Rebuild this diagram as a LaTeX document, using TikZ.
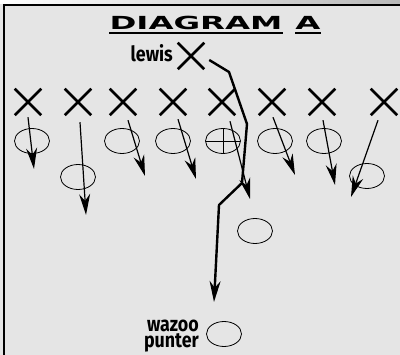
\documentclass[tikz,border=0pt]{standalone}
\usepackage{fontspec}
\setmainfont{Fira Sans}
\newfontfamily\titlefont{DejaVu Sans}
\usetikzlibrary{shapes.geometric,shapes.misc,arrows.meta}
\definecolor{field}{gray}{0.9}

\begin{document}
\begin{tikzpicture}[x=1pt,y=-1pt,>={Stealth[length=21pt,width=11pt]},
  player/.style={cross out,draw,line width=2.5pt,minimum size=24pt,inner sep=0pt},
  oval/.style={ellipse,draw,line width=0.8pt,minimum width=35pt,minimum height=25pt,inner sep=0pt},
  center/.style={oval,path picture={\draw[line width=0.8pt]
      (path picture bounding box.west) -- (path picture bounding box.east)
      (path picture bounding box.north) -- (path picture bounding box.south);}},
  run/.style={->,line width=1.2pt},
  route/.style={->,line width=2.4pt,line join=round},
  heading/.style={font=\titlefont\bfseries\fontsize{18}{18}\selectfont,xscale=1.8,inner sep=0pt},
  tag/.style={font=\bfseries\fontsize{21}{13}\selectfont,xscale=0.85,inner sep=0pt}]
  \useasboundingbox (0,0) rectangle (400,355);
  \fill[field] (0,0) rectangle (400,355);
  \shade[left color=white,right color=gray!55] (0,0) rectangle (400,4);
  \draw[line width=1.5pt] (4,355) -- (4,5) -- (400,5);
  % title
  \node[heading,anchor=base] (ttl) at (196,30) {DIAGRAM};
  \node[heading,anchor=base] (ttla) at (308,30) {A};
  \draw[line width=1.4pt] ([yshift=-3pt]ttl.base west) -- ([yshift=-3pt]ttl.base east);
  \draw[line width=1.4pt] ([yshift=-3pt]ttla.base west) -- ([yshift=-3pt]ttla.base east);
  % the line
  \node[player] (lw) at (191,56) {};
  \node[tag,anchor=base east] (lwt) at (173,62) {lewis};
  \foreach \i/\x in {1/28,2/78,3/123,4/173,5/222,6/272,7/322,8/384}
    \node[player] (x\i) at (\x,102) {};
  % ovals
  \node[oval] (o1) at (32,141) {};
  \node[oval] (o2) at (78,177) {};
  \node[oval] (o3) at (122,141) {};
  \node[oval] (o4) at (173,141) {};
  \node[center] (o5) at (223,141) {};
  \node[oval] (o6) at (275,141) {};
  \node[oval] (o7) at (324,141) {};
  \node[oval] (o8) at (367,176) {};
  \node[oval] (ob) at (255,231) {};
  \node[oval] (op) at (224,334) {};
  \node[tag,anchor=base east] (opw) at (199,332) {wazoo};
  \node[tag,anchor=base east] (opp) at (199,347.5) {punter};
  % blocking runs
  \foreach \i/\dx/\dy/\tx/\ty in {1/0/2/34/169,2/2/7/86/215,3/5/5/145/176,4/5/4/196/179,
      5/8/6/250/199,6/1/2/295/175,7/1/5/335/185,8/-6/5/351/197}{
    \coordinate (tip\i) at (\tx,\ty);
    \draw[run] ([shift={(\dx,\dy)}]x\i.south) -- (tip\i);
  }
  % lewis route
  \coordinate (end) at (214,302);
  \draw[route] ([shift={(5,4)}]lw.east) -- (229,72) -- (247,124) -- (242,183)
    -- (219,205) -- (end);
\end{tikzpicture}
\end{document}
